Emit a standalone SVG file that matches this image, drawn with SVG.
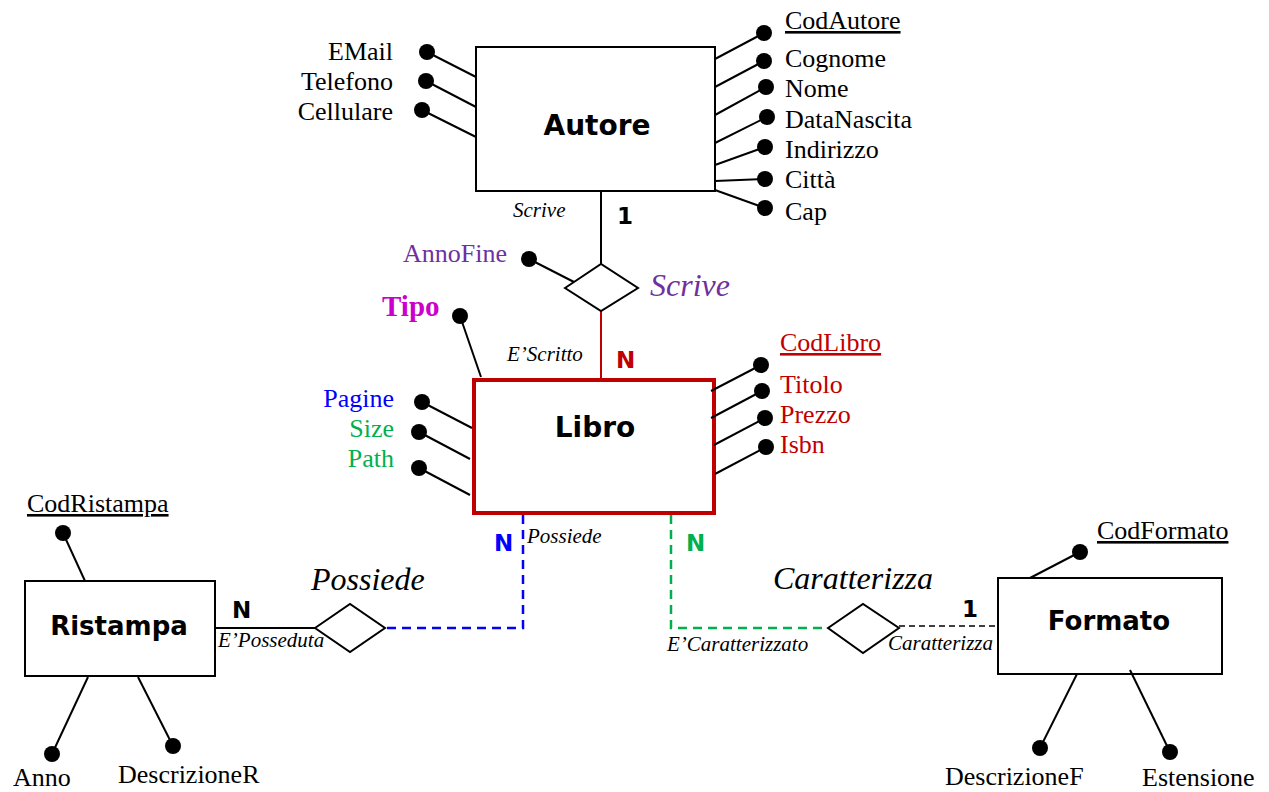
<svg xmlns="http://www.w3.org/2000/svg" width="1269" height="792" viewBox="0 0 1269 792">
<style>
.ent{fill:#fff;stroke:#000;stroke-width:2}
.lib{fill:#fff;stroke:#C00000;stroke-width:4}
.rel{fill:#fff;stroke:#000;stroke-width:2}
.ln{stroke:#000;stroke-width:2;fill:none}
.dot{fill:#000}
.attr{font-family:"Liberation Serif","Times New Roman",serif;font-size:26px;fill:#000}
.role{font-family:"Liberation Serif","Times New Roman",serif;font-style:italic;font-size:21px;fill:#000}
.rname{font-family:"Liberation Serif","Times New Roman",serif;font-style:italic;font-size:32px;fill:#000}
.ename{font-family:"DejaVu Sans",Verdana,sans-serif;font-weight:bold;text-anchor:middle;fill:#000}
.card{font-family:"DejaVu Sans",Verdana,sans-serif;font-weight:bold;font-size:23px;fill:#000}
.end{text-anchor:end}
.u{text-decoration:underline}
.red{fill:#C00000}
.purple{fill:#7030A0}
.blue{fill:#0000FF}
.green{fill:#00B050}
</style>
<rect width="1269" height="792" fill="#fff"/>

<g id="connectors">
  <line class="ln" x1="601" y1="192" x2="601" y2="264"/>
  <line x1="601" y1="311" x2="601" y2="378" stroke="#C00000" stroke-width="2"/>
  <line class="ln" x1="215" y1="628" x2="315" y2="628"/>
  <path d="M523,515 V628 H385" fill="none" stroke="#0000FF" stroke-width="2.5" stroke-dasharray="9 6"/>
  <path d="M671,515 V628 H828" fill="none" stroke="#00B050" stroke-width="2.5" stroke-dasharray="9 6"/>
  <line x1="899" y1="626" x2="997" y2="626" stroke="#000" stroke-width="1.5" stroke-dasharray="6 4"/>
</g>

<g id="autore">
  <rect class="ent" x="476" y="47" width="239" height="144"/>
  <text class="ename" x="597" y="135" font-size="28">Autore</text>
  <line class="ln" x1="427" y1="52" x2="476" y2="77"/><circle class="dot" cx="427" cy="52" r="8"/>
  <line class="ln" x1="426" y1="81" x2="476" y2="107"/><circle class="dot" cx="426" cy="81" r="8"/>
  <line class="ln" x1="422" y1="110" x2="476" y2="137"/><circle class="dot" cx="422" cy="110" r="8"/>
  <text class="attr end" x="393" y="60">EMail</text>
  <text class="attr end" x="393" y="90">Telefono</text>
  <text class="attr end" x="393" y="120">Cellulare</text>
  <line class="ln" x1="715" y1="59" x2="764" y2="33"/><circle class="dot" cx="764" cy="33" r="8"/>
  <line class="ln" x1="715" y1="87" x2="764" y2="61"/><circle class="dot" cx="764" cy="61" r="8"/>
  <line class="ln" x1="715" y1="115" x2="766" y2="87"/><circle class="dot" cx="766" cy="87" r="8"/>
  <line class="ln" x1="715" y1="143" x2="767" y2="117"/><circle class="dot" cx="767" cy="117" r="8"/>
  <line class="ln" x1="715" y1="165" x2="765" y2="147"/><circle class="dot" cx="765" cy="147" r="8"/>
  <line class="ln" x1="715" y1="181" x2="765" y2="179"/><circle class="dot" cx="765" cy="179" r="8"/>
  <line class="ln" x1="715" y1="190" x2="765" y2="208"/><circle class="dot" cx="765" cy="208" r="8"/>
  <text class="attr u" x="785" y="29">CodAutore</text>
  <text class="attr" x="785" y="67">Cognome</text>
  <text class="attr" x="785" y="97">Nome</text>
  <text class="attr" x="785" y="128">DataNascita</text>
  <text class="attr" x="785" y="158">Indirizzo</text>
  <text class="attr" x="785" y="188">Città</text>
  <text class="attr" x="785" y="220">Cap</text>
  <text class="role" x="513" y="217">Scrive</text>
  <text class="card" x="617" y="224">1</text>
</g>

<g id="scrive">
  <polygon class="rel" points="565,288 601,264 638,288 601,311"/>
  <line class="ln" x1="529" y1="259" x2="574" y2="282"/><circle class="dot" cx="529" cy="259" r="8"/>
  <text class="attr end purple" x="507" y="262">AnnoFine</text>
  <text class="rname purple" x="650" y="296">Scrive</text>
</g>

<g id="libro">
  <rect class="lib" x="474" y="380" width="240" height="133"/>
  <text class="ename" x="595" y="437" font-size="28">Libro</text>
  <line class="ln" x1="460" y1="316" x2="481" y2="377"/><circle class="dot" cx="460" cy="316" r="8"/>
  <text x="382" y="316" font-family="Liberation Serif, Times New Roman, serif" font-weight="bold" font-size="29" fill="#CC00CC">Tipo</text>
  <text class="role" x="507" y="361">E’Scritto</text>
  <text class="card red" x="616" y="368">N</text>
  <line class="ln" x1="422" y1="402" x2="472" y2="428"/><circle class="dot" cx="422" cy="402" r="8"/>
  <line class="ln" x1="419" y1="432" x2="470" y2="459"/><circle class="dot" cx="419" cy="432" r="8"/>
  <line class="ln" x1="419" y1="468" x2="470" y2="495"/><circle class="dot" cx="419" cy="468" r="8"/>
  <text class="attr end blue" x="394" y="407">Pagine</text>
  <text class="attr end green" x="394" y="437">Size</text>
  <text class="attr end green" x="394" y="467">Path</text>
  <line class="ln" x1="711" y1="391" x2="761" y2="365"/><circle class="dot" cx="761" cy="365" r="8"/>
  <line class="ln" x1="711" y1="418" x2="762" y2="391"/><circle class="dot" cx="762" cy="391" r="8"/>
  <line class="ln" x1="714" y1="445" x2="765" y2="418"/><circle class="dot" cx="765" cy="418" r="8"/>
  <line class="ln" x1="715" y1="474" x2="766" y2="447"/><circle class="dot" cx="766" cy="447" r="8"/>
  <text class="attr u red" x="780" y="351">CodLibro</text>
  <text class="attr red" x="780" y="393">Titolo</text>
  <text class="attr red" x="780" y="423">Prezzo</text>
  <text class="attr red" x="780" y="453">Isbn</text>
  <text class="card blue" x="494" y="551">N</text>
  <text class="role" x="527" y="543">Possiede</text>
  <text class="card green" x="686" y="551">N</text>
</g>

<g id="possiede">
  <polygon class="rel" points="315,628 350,604 385,628 350,652"/>
  <text class="rname" x="311" y="590">Possiede</text>
</g>

<g id="ristampa">
  <rect class="ent" x="25" y="581" width="190" height="95"/>
  <text class="ename" x="119" y="635" font-size="26">Ristampa</text>
  <text class="card" x="232" y="618">N</text>
  <text class="role" x="218" y="647">E’Posseduta</text>
  <line class="ln" x1="63" y1="533" x2="85" y2="581"/><circle class="dot" cx="63" cy="533" r="8"/>
  <text class="attr u" x="27" y="512">CodRistampa</text>
  <line class="ln" x1="52" y1="754" x2="88" y2="677"/><circle class="dot" cx="52" cy="754" r="8"/>
  <text class="attr" x="13" y="786">Anno</text>
  <line class="ln" x1="138" y1="677" x2="173" y2="746"/><circle class="dot" cx="173" cy="746" r="8"/>
  <text class="attr" x="118" y="783">DescrizioneR</text>
</g>

<g id="caratterizza">
  <polygon class="rel" points="828,628 863,604 899,628 863,653"/>
  <text class="rname" x="773" y="589">Caratterizza</text>
  <text class="role" x="667" y="651">E’Caratterizzato</text>
  <text class="role" x="888" y="650">Caratterizza</text>
  <text class="card" x="962" y="617">1</text>
</g>

<g id="formato">
  <rect class="ent" x="998" y="578" width="224" height="96"/>
  <text class="ename" x="1109" y="630" font-size="26">Formato</text>
  <line class="ln" x1="1080" y1="552" x2="1030" y2="578"/><circle class="dot" cx="1080" cy="552" r="8"/>
  <text class="attr u" x="1097" y="539">CodFormato</text>
  <line class="ln" x1="1040" y1="748" x2="1077" y2="674"/><circle class="dot" cx="1040" cy="748" r="8"/>
  <text class="attr" x="945" y="785">DescrizioneF</text>
  <line class="ln" x1="1170" y1="752" x2="1130" y2="670"/><circle class="dot" cx="1170" cy="752" r="8"/>
  <text class="attr" x="1142" y="786">Estensione</text>
</g>
</svg>
